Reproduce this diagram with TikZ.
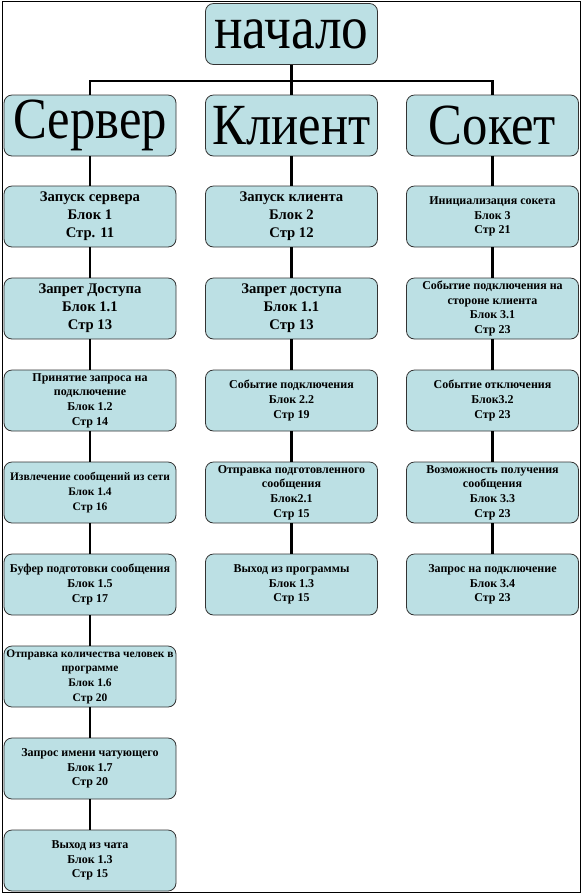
\documentclass[tikz,border=0pt]{standalone}
\usepackage{fontspec}
\usepackage{graphicx}
\newfontfamily\rus{Liberation Serif}
\definecolor{boxfill}{RGB}{188,224,228}
\tikzset{
  box/.style={draw=black!80, line width=0.6pt, fill=boxfill, rounded corners=6pt,
    minimum width=129pt, minimum height=45.75pt, align=center, inner sep=1pt},
  txtA/.style={font=\rus\bfseries\fontsize{11}{13.5}\selectfont},
  txtB/.style={font=\rus\bfseries\fontsize{9}{11}\selectfont},
  txtC/.style={font=\rus\bfseries\fontsize{8.6}{11}\selectfont},
  conn/.style={draw=black, line width=1.6pt},
  frame/.style={draw=black, line width=0.5pt}
}
\begin{document}
\begin{tikzpicture}[x=0.75pt, y=-0.75pt]
\useasboundingbox (0,0) rectangle (582,894);
\draw[frame] (2,1) rectangle (580,892);
% top
\node[box] (start) at (291.5,34) {\scalebox{1}[1.15]{\fontsize{40}{40}\selectfont\rus начало}};
\node[box] (server) at (90,125.5) {\scalebox{1}[1.15]{\fontsize{38}{38}\selectfont\rus Сервер}};
\node[box] (client) at (291.5,125.5) {\scalebox{1}[1.15]{\fontsize{38}{38}\selectfont\rus Клиент}};
\node[box] (socket) at (492.5,125.5) {\scalebox{1}[1.15]{\fontsize{38}{38}\selectfont\rus Сокет}};
\coordinate (hy) at (0,81);
\draw[conn] (start.south) -- (client.north);
\draw[conn] (server.north) -- (server.north |- hy) -- (socket.north |- hy) -- (socket.north);
% server column
\node[box, txtA] (s1) at (90,216.5) {Запуск сервера\\Блок 1\\Стр. 11};
\node[box, txtA] (s2) at (90,308.5) {Запрет Доступа\\Блок 1.1\\Стр 13};
\node[box, txtB] (s3) at (90,400.5) {Принятие запроса на\\подключение\\Блок 1.2\\Стр 14};
\node[box, txtC] (s4) at (90,492.5) {Извлечение сообщений из сети\\Блок 1.4\\Стр 16};
\node[box, txtB] (s5) at (90,584.5) {Буфер подготовки сообщения\\Блок 1.5\\Стр 17};
\node[box, txtC] (s6) at (90,676.5) {Отправка количества человек в\\программе\\Блок 1.6\\Стр 20};
\node[box, txtB] (s7) at (90,768.5) {Запрос имени чатующего\\Блок 1.7\\Стр 20};
\node[box, txtB] (s8) at (90,860.5) {Выход из чата\\Блок 1.3\\Стр 15};
% client column
\node[box, txtA] (c1) at (291.5,216.5) {Запуск клиента\\Блок 2\\Стр 12};
\node[box, txtA] (c2) at (291.5,308.5) {Запрет доступа\\Блок 1.1\\Стр 13};
\node[box, txtB] (c3) at (291.5,400.5) {Событие подключения\\Блок 2.2\\Стр 19};
\node[box, txtB] (c4) at (291.5,492.5) {Отправка подготовленного\\сообщения\\Блок2.1\\Стр 15};
\node[box, txtB] (c5) at (291.5,584.5) {Выход из программы\\Блок 1.3\\Стр 15};
% socket column
\node[box, txtB] (k1) at (492.5,216.5) {Инициализация сокета\\Блок 3\\Стр 21};
\node[box, txtB] (k2) at (492.5,308.5) {Событие подключения на\\стороне клиента\\Блок 3.1\\Стр 23};
\node[box, txtB] (k3) at (492.5,400.5) {Событие отключения\\Блок3.2\\Стр 23};
\node[box, txtB] (k4) at (492.5,492.5) {Возможность получения\\сообщения\\Блок 3.3\\Стр 23};
\node[box, txtB] (k5) at (492.5,584.5) {Запрос на подключение\\Блок 3.4\\Стр 23};
% vertical connectors
\foreach \a/\b in {server/s1,s1/s2,s2/s3,s3/s4,s4/s5,s5/s6,s6/s7,s7/s8,
                   client/c1,c1/c2,c2/c3,c3/c4,c4/c5,
                   socket/k1,k1/k2,k2/k3,k3/k4,k4/k5}
  \draw[conn] (\a.south) -- (\b.north);
\end{tikzpicture}
\end{document}
